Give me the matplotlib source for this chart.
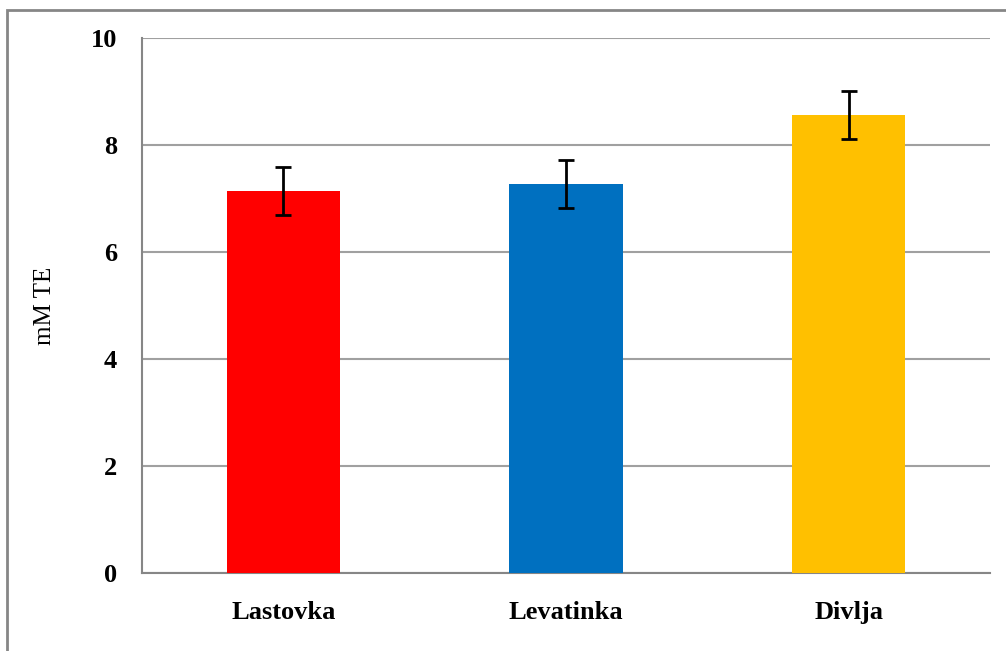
import matplotlib
matplotlib.use("Agg")
import matplotlib.pyplot as plt
from matplotlib.patches import Rectangle

# Data
categories = ["Lastovka", "Levatinka", "Divlja"]
values = [7.14, 7.27, 8.56]
errors = [0.45, 0.45, 0.45]
colors = ["#FF0000", "#0070C0", "#FFC000"]

plt.rcParams["font.family"] = ["Liberation Serif", "DejaVu Serif"]

W, H = 1006, 651
fig = plt.figure(figsize=(W / 100, H / 100), dpi=100)
ax = fig.add_axes([142 / W, 1 - 573 / H, (990 - 142) / W, (573 - 38) / H])

x = range(len(categories))
ax.bar(x, values, width=0.4, color=colors, zorder=3)
ax.errorbar(x, values, yerr=errors, fmt="none", ecolor="black",
            elinewidth=2, capsize=6, capthick=2, zorder=4)

ax.set_xlim(-0.5, 2.5)
ax.set_ylim(0, 10)
ax.set_yticks([0, 2, 4, 6, 8, 10])
ax.set_xticks(list(x))
ax.set_xticklabels(categories, fontsize=19, fontweight="bold")
for lbl in ax.get_yticklabels():
    lbl.set_fontsize(19)
    lbl.set_fontweight("bold")
ax.tick_params(axis="both", length=0)
ax.tick_params(axis="x", pad=20)
ax.tick_params(axis="y", pad=18)

ax.yaxis.grid(True, color="#A0A0A0", linewidth=1.5, zorder=0)
ax.set_axisbelow(True)
for side in ["top", "right"]:
    ax.spines[side].set_visible(False)
ax.spines["left"].set_color("#868686")
ax.spines["bottom"].set_color("#868686")
ax.spines["left"].set_linewidth(1.5)
ax.spines["bottom"].set_linewidth(1.5)

ax.set_ylabel("mM TE", fontsize=18)
ax.yaxis.set_label_coords(-0.102, 0.5)

# outer chart border (cut off on right and bottom in the reference)
fig.patches.append(Rectangle((7 / W, -0.1), 1.2, 1 - 10 / H + 0.1,
                             transform=fig.transFigure, fill=False,
                             edgecolor="#868686", linewidth=2))

fig.savefig("out.png", dpi=100)
